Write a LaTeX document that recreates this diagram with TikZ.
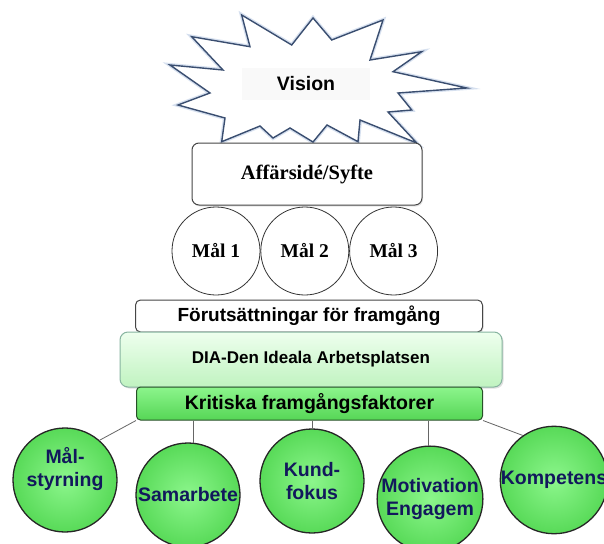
\documentclass[tikz,border=0pt]{standalone}
\usepackage{fontspec}
\setmainfont{Liberation Serif}
\setsansfont{Liberation Sans}
\usetikzlibrary{positioning,shadows}
\tikzstyle{diagram} = [x = 1pt, y = -1pt]
\definecolor{starLineColor}{RGB}{58,78,112}
\definecolor{starGlowColor}{RGB}{175,195,225}
\definecolor{boxLineColor}{RGB}{70,70,70}
\definecolor{visionBack}{RGB}{249,249,249}
\definecolor{diaTop}{RGB}{238,255,238}
\definecolor{diaBottom}{RGB}{192,243,192}
\definecolor{diaLine}{RGB}{135,180,160}
\definecolor{kritTop}{RGB}{140,245,140}
\definecolor{kritBottom}{RGB}{86,214,86}
\definecolor{kritLine}{RGB}{40,80,40}
\definecolor{ballInner}{RGB}{140,246,140}
\definecolor{ballOuter}{RGB}{88,218,88}
\definecolor{ballText}{RGB}{18,24,92}
\tikzstyle{starStyle} = [draw=starLineColor, fill=white, line width=1.4pt]
\tikzstyle{starGlow} = [draw=starGlowColor, line width=4pt, opacity=0.5]
\tikzstyle{visionText} = [fill=visionBack, minimum width=128pt, minimum height=32pt, font=\sffamily\bfseries\fontsize{19.5}{22}\selectfont]
\tikzstyle{affarBox} = [draw=boxLineColor, fill=white, rounded corners=7pt, line width=1pt, minimum width=230pt, minimum height=62pt, drop shadow={opacity=0.2, shadow xshift=1pt, shadow yshift=-1.5pt}, font=\bfseries\fontsize{20.5}{24}\selectfont]
\tikzstyle{goalCircle} = [circle, draw=black!80, fill=white, line width=0.8pt, minimum size=88pt, inner sep=0pt, font=\bfseries\fontsize{19.5}{23}\selectfont]
\tikzstyle{flatBox} = [draw=boxLineColor, fill=white, rounded corners=5pt, line width=1pt, minimum width=347pt, minimum height=32pt, drop shadow={opacity=0.2, shadow xshift=1pt, shadow yshift=-1.5pt}, font=\sffamily\bfseries\fontsize{19}{22}\selectfont]
\tikzstyle{diaBox} = [draw=diaLine, top color=diaTop, bottom color=diaBottom, rounded corners=8pt, line width=1pt, minimum width=382pt, minimum height=55pt, drop shadow={opacity=0.25, shadow xshift=1.5pt, shadow yshift=-1.5pt}, font=\sffamily\bfseries\fontsize{17}{20}\selectfont]
\tikzstyle{kritBox} = [draw=kritLine, top color=kritTop, bottom color=kritBottom, rounded corners=4pt, line width=1pt, minimum width=346pt, minimum height=33pt, font=\sffamily\bfseries\fontsize{19.5}{22}\selectfont]
\tikzstyle{factorBall} = [circle, draw=black!85, line width=1.3pt, inner color=ballInner, outer color=ballOuter, minimum size=104pt, inner sep=0pt, align=center, text=ballText, font=\sffamily\bfseries\fontsize{19.5}{23}\selectfont]
\tikzstyle{linkLine} = [draw=black!60, line width=0.8pt]
\newcommand{\visionStar}[1]{\draw [#1] (170,65) -- (223,70) -- (191.7,36.7) -- (250,46.7) -- (241.7,15) -- (291.7,45) -- (313,18) -- (331.7,40) -- (383,20) -- (370,60) -- (421.7,51.7) -- (393,71.7) -- (466.7,88) -- (398,93) -- (411.7,110) -- (388,112) -- (416.7,143) -- (360,120) -- (358,141.7) -- (327,125) -- (313,142) -- (290,128) -- (273,138) -- (260,126) -- (221.7,141.7) -- (225,118) -- (178,105) -- (210,93) -- cycle;}
\begin{document}
\begin{tikzpicture}[diagram]
  \fill [white] (0,0) rectangle (604,543);
  \useasboundingbox (0,0) rectangle (604,543);
  % vision star
  \visionStar{starGlow}
  \visionStar{starStyle}
  \node [visionText] (vision) at (306,84) {Vision};
  % business idea and goals
  \node [affarBox] (affarside) at (307,174) {Affärsidé/Syfte};
  \node [goalCircle] (mal1) at (216,251) {Mål 1};
  \node [goalCircle, right = 0pt of mal1] (mal2) {Mål 2};
  \node [goalCircle, right = 0pt of mal2] (mal3) {Mål 3};
  % foundations
  \node [flatBox] (forutsattningar) at (309,316) {Förutsättningar för framgång};
  \node [diaBox] (dia) at (311,359.5) {DIA-Den Ideala Arbetsplatsen};
  % critical factors
  \node [factorBall] (malstyrning) at (65,480) {Mål-\\styrning\\[4pt]};
  \node [factorBall] (samarbete) at (188,495) {Samarbete};
  \node [factorBall] (kundfokus) at (312,481) {Kund-\\fokus};
  \node [factorBall] (motivation) at (430,499) {Motivation\\Engagem};
  \node [factorBall] (kompetens) at (554,480) {Kompetens};
  \node [kritBox] (kritiska) at (309.5,403.5) {Kritiska framgångsfaktorer};
  \draw [linkLine] (kritiska.south west) -- (malstyrning.49);
  \draw [linkLine] (samarbete.84 |- kritiska.south) -- (samarbete.84);
  \draw [linkLine] (kundfokus.90 |- kritiska.south) -- (kundfokus.90);
  \draw [linkLine] (motivation.92 |- kritiska.south) -- (motivation.92);
  \draw [linkLine] (kritiska.south east) -- (kompetens.125);
\end{tikzpicture}
\end{document}
